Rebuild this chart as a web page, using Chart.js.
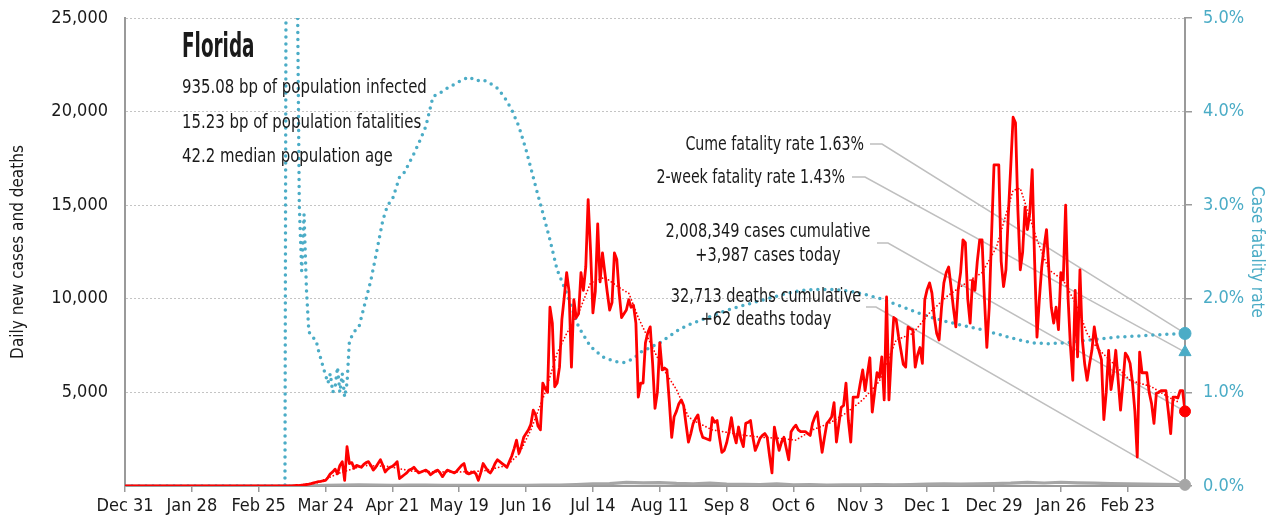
<!DOCTYPE html>
<html>
<head>
<meta charset="utf-8">
<script src="https://cdn.jsdelivr.net/npm/chart.js@4.4.1/dist/chart.umd.min.js"></script>
<style>
  html, body { margin: 0; padding: 0; background: #fff; }
  canvas { display: block; }
</style>
</head>
<body>
<canvas id="chart" width="1273" height="529"></canvas>
<script>
// x values are days counted from Dec 31 2019
const tickDays = [0, 28, 56, 84, 112, 140, 168, 196, 224, 252, 280, 308, 336, 364, 392, 420];
const tickLabels = ['Dec 31', 'Jan 28', 'Feb 25', 'Mar 24', 'Apr 21', 'May 19', 'Jun 16', 'Jul 14',
  'Aug 11', 'Sep 8', 'Oct 6', 'Nov 3', 'Dec 1', 'Dec 29', 'Jan 26', 'Feb 23'];
const lastDay = 444;

// daily new cases, one value per day starting Mar 1 (day 61)
const firstCaseDay = 61;
const dailyCases = [
  2, 0, 1, 2, 1, 4, 5, 7, 12, 8,
  17, 27, 20, 45, 60, 80, 100, 130, 170, 200,
  230, 250, 280, 300, 450, 650, 750, 900, 650, 1100,
  1300, 300, 2100, 1200, 1250, 950, 1100, 1050, 1000, 1150,
  1250, 1300, 1100, 850, 1000, 1200, 1400, 1100, 750, 900,
  1000, 1050, 1150, 1300, 400, 500, 600, 700, 850, 900,
  1000, 850, 700, 750, 800, 850, 750, 600, 700, 800,
  850, 700, 500, 700, 850, 800, 750, 700, 800, 950,
  1100, 1200, 700, 650, 700, 750, 650, 300, 700, 1200,
  1000, 800, 700, 900, 1200, 1400, 1300, 1200, 1100, 1000,
  1300, 1600, 2000, 2450, 1750, 2100, 2600, 2800, 3000, 3300,
  4050, 3800, 3200, 3000, 5500, 5200, 5000, 9550, 8700, 5300,
  5500, 6350, 8900, 10100, 11400, 10400, 6350, 9950, 9000, 9200,
  11400, 10450, 11700, 15300, 12600, 9250, 10400, 14000, 10900, 12450,
  11400, 10350, 9400, 9800, 12450, 12100, 10300, 9000, 9200, 9400,
  9950, 9550, 9650, 8700, 4750, 5500, 5500, 7650, 8200, 8500,
  6550, 4150, 5000, 7650, 6200, 6300, 6200, 4500, 2600, 3700,
  4000, 4400, 4600, 4300, 3300, 2350, 2800, 3350, 3600, 3800,
  3000, 2600, 2550, 2500, 2450, 3650, 3400, 3500, 2600, 1800,
  1900, 2300, 2900, 3650, 2800, 2300, 3150, 2500, 2100, 3350,
  3400, 3500, 2600, 1900, 2200, 2550, 2700, 2800, 2600, 1600,
  700, 3150, 2500, 1900, 2350, 2600, 2000, 1400, 2900, 3100,
  3250, 3000, 2900, 2900, 2900, 2800, 2700, 3350, 3700, 3950,
  2800, 1800, 2600, 3350, 3500, 3700, 4450, 2350, 3300, 4200,
  4300, 5500, 3500, 2350, 4750, 4750, 4750, 5500, 6200, 5100,
  6000, 6850, 3950, 5000, 6050, 5800, 6900, 4600, 10100, 4600,
  7000, 9000, 8900, 8000, 7250, 6500, 6350, 8500, 8400, 8350,
  6350, 7000, 7400, 6550, 9950, 10500, 10850, 10300, 9000, 8150,
  7800, 9500, 10850, 11400, 11700, 10650, 9500, 8500, 10500, 11400,
  13150, 13000, 10000, 8700, 11000, 10450, 12000, 13150, 13150, 10000,
  7400, 9550, 13500, 17150, 17150, 17150, 12000, 10650, 11550, 14500,
  17050, 19700, 19400, 14750, 11550, 12500, 14900, 13700, 14600, 16900,
  12050, 7950, 10000, 11700, 12800, 13700, 11500, 9550, 8700, 9550,
  8350, 11400, 11000, 15000, 10100, 7500, 5650, 10450, 6900, 11550,
  7800, 6500, 5650, 6500, 7250, 8500, 7650, 7200, 6750, 3550,
  5000, 7250, 5150, 6000, 7250, 5650, 4050, 5500, 7100, 6900,
  6550, 5500, 4000, 1550, 7150, 6050, 6050, 6050, 5000, 4400,
  3350, 4950, 5000, 5100, 5100, 5100, 4000, 2800, 4750, 4750,
  4700, 5100, 5100, 3987
];

// 7-day average of cases
const avgDays = [0, 61, 70, 80, 90, 100, 110, 120, 130, 140, 150, 160, 165, 170, 176, 181, 185, 190, 195, 201,
  207, 211, 215, 220, 225, 231, 236, 238, 246, 253, 260, 267, 274, 281, 288, 295, 302, 309, 316, 323,
  330, 337, 344, 354, 359, 365, 368, 372, 375, 379, 382, 387, 393, 399, 403, 407, 414, 421, 430, 437, 441];
const avgCases = [0, 0, 20, 150, 700, 1100, 1050, 800, 750, 750, 800, 1100, 1700, 3000, 5000, 7100, 8150, 9250, 10850, 11150,
  10600, 10300, 9000, 7650, 6350, 5150, 3700, 3500, 3000, 2850, 2700, 2600, 2550, 2450, 3000, 3350, 3900, 4600, 5600, 7800,
  8150, 9250, 10100, 11000, 11400, 12750, 14050, 15800, 15900, 14350, 13150, 11550, 11000, 9550, 8150, 7400, 6550, 5650, 5300, 4750, 4500];

// daily deaths
const deathDays = [0, 63, 70, 77, 84, 91, 98, 105, 112, 119, 126, 133, 140, 147, 154, 161, 168, 175, 182, 189,
  196, 203, 210, 217, 224, 231, 238, 245, 252, 259, 266, 273, 280, 287, 294, 301, 308, 315, 322, 329,
  336, 343, 350, 357, 364, 371, 378, 385, 392, 399, 406, 413, 420, 427, 434, 441, 444];
const dailyDeaths = [0, 0, 2, 10, 30, 45, 60, 50, 40, 50, 45, 40, 35, 40, 35, 30, 40, 45, 50, 80,
  120, 130, 190, 170, 180, 140, 120, 150, 100, 90, 80, 110, 60, 70, 50, 60, 55, 70, 60, 80,
  95, 110, 100, 120, 130, 150, 190, 160, 200, 170, 150, 130, 110, 100, 90, 75, 62];

// case fatality rate, %
const cfrDays = [0, 67, 68, 69, 70, 71, 72, 73, 74, 75, 76, 77, 78, 80, 81, 83, 85, 86, 87, 88,
  89, 90, 91, 92, 93, 94, 96, 98, 101, 103, 105, 108, 110, 112, 115, 117, 119, 121, 123, 126,
  129, 132, 135, 140, 144, 147, 150, 153, 156, 159, 162, 165, 168, 172, 175, 178, 181, 185, 190, 195,
  200, 205, 209, 213, 216, 220, 224, 228, 232, 236, 241, 248, 255, 262, 269, 276, 283, 290, 297, 304,
  311, 318, 325, 331, 338, 345, 352, 359, 366, 373, 380, 387, 394, 401, 408, 415, 422, 429, 436, 444];
const cfrValues = [0, 0, 12, 10, 9, 8, 6, 3.0, 2.3, 2.9, 2.1, 1.65, 1.6, 1.56, 1.45, 1.27, 1.1, 1.2, 1.0, 1.05,
  1.27, 1.0, 1.2, 0.95, 1.1, 1.55, 1.65, 1.7, 2.0, 2.2, 2.45, 2.84, 3.0, 3.06, 3.3, 3.35, 3.45, 3.55, 3.66, 3.84,
  4.16, 4.2, 4.25, 4.32, 4.37, 4.33, 4.34, 4.3, 4.25, 4.15, 4.02, 3.84, 3.59, 3.2, 2.92, 2.63, 2.31, 2.06, 1.7, 1.49,
  1.38, 1.33, 1.32, 1.36, 1.43, 1.48, 1.53, 1.6, 1.67, 1.72, 1.77, 1.84, 1.9, 1.95, 2.0, 2.05, 2.09, 2.1, 2.1, 2.08,
  2.04, 1.99, 1.92, 1.86, 1.8, 1.75, 1.71, 1.67, 1.62, 1.57, 1.53, 1.52, 1.53, 1.55, 1.57, 1.59, 1.6, 1.61, 1.62, 1.63];

const cumeFatality = 1.63;
const twoWeekFatality = 1.43;
const casesToday = 3987;
const deathsToday = 62;

const FONT = "'DejaVu Sans Condensed', 'DejaVu Sans', sans-serif";
const RED = '#ff0000';
const BLUE = '#4bacc6';
const GRAY = '#a6a6a6';
const AXIS = '#9a9a9a';

const pairs = (days, vals) => days.map((d, i) => ({ x: d, y: vals[i] }));
const casePoints = [{ x: 0, y: 0 }].concat(dailyCases.map((v, i) => ({ x: firstCaseDay + i, y: v })));

// text squeezed sideways, the original uses a narrow face
function narrowText(ctx, text, x, y, squeeze) {
  ctx.save();
  ctx.translate(x, y);
  ctx.scale(squeeze, 1);
  ctx.fillText(text, 0, 0);
  ctx.restore();
}

// vertical axes: fixed width, no extra room for the end labels
const fitVertical = (width) => (axis) => {
  axis.width = width;
  axis.paddingTop = 0;
  axis.paddingBottom = 0;
};

// leader lines + text labels
const annotations = {
  id: 'annotations',
  beforeDatasetsDraw(chart) {
    const { ctx, scales: { x, y, y2 } } = chart;
    const ex = x.getPixelForValue(lastDay);
    const leaders = [
      [870, 144, 882, y2.getPixelForValue(cumeFatality)],
      [852, 177, 865, y2.getPixelForValue(twoWeekFatality)],
      [877, 243, 888, y.getPixelForValue(casesToday)],
      [866, 307, 876, y.getPixelForValue(deathsToday)]
    ];
    ctx.save();
    ctx.strokeStyle = '#bfbfbf';
    ctx.lineWidth = 1.5;
    leaders.forEach(([x0, y0, x1, yEnd]) => {
      ctx.beginPath();
      ctx.moveTo(x0, y0);
      ctx.lineTo(x1, y0);
      ctx.lineTo(ex, yEnd);
      ctx.stroke();
    });
    ctx.restore();
  },
  afterDraw(chart) {
    const ctx = chart.ctx;
    ctx.save();
    ctx.fillStyle = '#1a1a1a';
    ctx.textBaseline = 'middle';
    ctx.textAlign = 'left';
    ctx.font = `bold 33px ${FONT}`;
    narrowText(ctx, 'Florida', 182, 48, 0.62);
    ctx.font = `20px ${FONT}`;
    narrowText(ctx, '935.08 bp of population infected', 182, 88, 0.83);
    narrowText(ctx, '15.23 bp of population fatalities', 182, 123, 0.83);
    narrowText(ctx, '42.2 median population age', 182, 157, 0.83);

    ctx.font = `19px ${FONT}`;
    ctx.textAlign = 'right';
    narrowText(ctx, 'Cume fatality rate 1.63%', 864, 145, 0.83);
    narrowText(ctx, '2-week fatality rate 1.43%', 845, 178, 0.83);
    ctx.textAlign = 'center';
    narrowText(ctx, '2,008,349 cases cumulative', 768, 232, 0.85);
    narrowText(ctx, '+3,987 cases today', 768, 256, 0.85);
    narrowText(ctx, '32,713 deaths cumulative', 766, 297, 0.85);
    narrowText(ctx, '+62 deaths today', 766, 320, 0.85);
    ctx.restore();
  }
};

new Chart(document.getElementById('chart'), {
  type: 'line',
  data: {
    datasets: [
      { // end markers
        data: [{ x: lastDay, y: casesToday }],
        yAxisID: 'y', showLine: false, pointRadius: 5.5, pointBackgroundColor: RED, pointBorderColor: RED, clip: false
      },
      {
        data: [{ x: lastDay, y: deathsToday }],
        yAxisID: 'y', showLine: false, pointRadius: 5.5, pointBackgroundColor: GRAY, pointBorderColor: GRAY, clip: false
      },
      {
        data: [{ x: lastDay, y: cumeFatality }],
        yAxisID: 'y2', showLine: false, pointRadius: 6, pointBackgroundColor: BLUE, pointBorderColor: BLUE, clip: false
      },
      {
        data: [{ x: lastDay, y: twoWeekFatality }],
        yAxisID: 'y2', showLine: false, pointStyle: 'triangle', pointRadius: 7, pointBackgroundColor: BLUE, pointBorderColor: BLUE, clip: false
      },
      {
        label: 'Daily new cases',
        data: casePoints,
        yAxisID: 'y',
        borderColor: RED, borderWidth: 2.8, pointRadius: 0, borderJoinStyle: 'round'
      },
      {
        label: '7-day average',
        data: pairs(avgDays, avgCases),
        yAxisID: 'y',
        borderColor: RED, borderWidth: 1.8, borderDash: [0, 3.5], borderCapStyle: 'round', pointRadius: 0
      },
      {
        label: 'Case fatality rate',
        data: pairs(cfrDays, cfrValues),
        yAxisID: 'y2',
        borderColor: BLUE, borderWidth: 3.5, borderDash: [0, 7], borderCapStyle: 'round', pointRadius: 0
      },
      {
        label: 'Daily deaths',
        data: pairs(deathDays, dailyDeaths),
        yAxisID: 'y',
        borderColor: GRAY, borderWidth: 3.2, pointRadius: 0
      }
    ]
  },
  options: {
    responsive: false,
    animation: false,
    devicePixelRatio: 1,
    layout: { padding: { top: 18, left: 0, right: 0, bottom: 0 } },
    plugins: { legend: { display: false }, tooltip: { enabled: false } },
    scales: {
      x: {
        type: 'linear',
        min: 0, max: lastDay,
        afterBuildTicks: (axis) => { axis.ticks = tickDays.map(v => ({ value: v })); },
        afterFit: (axis) => { axis.height = 43; axis.paddingLeft = 0; axis.paddingRight = 0; },
        ticks: {
          autoSkip: false, maxRotation: 0, padding: 4,
          color: '#1a1a1a', font: { family: FONT, size: 18 },
          callback: (v) => tickLabels[tickDays.indexOf(v)]
        },
        grid: { drawOnChartArea: false, drawTicks: true, tickLength: 6, color: AXIS, lineWidth: 1.5 },
        border: { color: AXIS, width: 2 }
      },
      y: {
        position: 'left',
        min: 0, max: 25000,
        afterFit: fitVertical(125),
        ticks: {
          stepSize: 5000, padding: 17,
          color: '#1a1a1a', font: { family: FONT, size: 18 },
          callback: (v) => v === 0 ? '' : v.toLocaleString('en-US')
        },
        grid: { drawTicks: false, color: '#c4c4c4', lineWidth: 1 },
        border: { color: AXIS, width: 2, dash: [2, 2] },
        title: {
          display: true, text: 'Daily new cases and deaths', color: '#1a1a1a',
          font: { family: FONT, size: 17 }, padding: { top: 8, bottom: 0 }
        }
      },
      y2: {
        position: 'right',
        min: 0, max: 5,
        afterFit: fitVertical(88),
        ticks: {
          stepSize: 1, padding: 11,
          color: BLUE, font: { family: FONT, size: 18 },
          callback: (v) => v.toFixed(1) + '%'
        },
        grid: { drawOnChartArea: false, drawTicks: true, tickLength: 7, color: AXIS, lineWidth: 1.5 },
        border: { color: AXIS, width: 2 },
        title: {
          display: true, text: 'Case fatality rate', color: BLUE,
          font: { family: FONT, size: 17 }, padding: { top: 6, bottom: 0 }
        }
      }
    }
  },
  plugins: [annotations]
});
</script>
</body>
</html>
